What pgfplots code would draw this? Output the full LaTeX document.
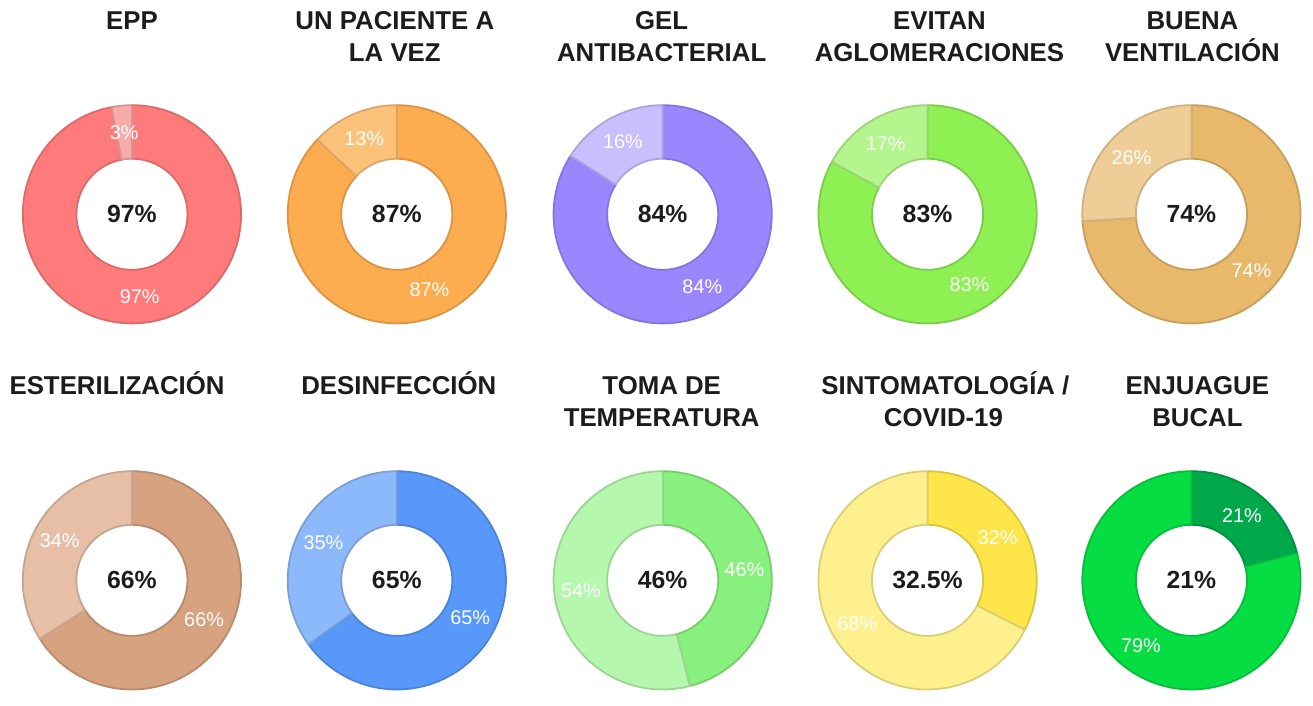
\documentclass[border=0pt]{standalone}
\usepackage{fontspec}
\setmainfont{Liberation Sans}
\usepackage{pgfplots}
\pgfplotsset{compat=1.18}

\definecolor{eppD}{HTML}{FF7B7B}\definecolor{eppL}{HTML}{F9ABAB}
\definecolor{pacD}{HTML}{FDAC4F}\definecolor{pacL}{HTML}{FDC27A}
\definecolor{gelD}{HTML}{9A87FF}\definecolor{gelL}{HTML}{C9BFFF}
\definecolor{eviD}{HTML}{8EF052}\definecolor{eviL}{HTML}{B4F58E}
\definecolor{venD}{HTML}{E8B86B}\definecolor{venL}{HTML}{EFCD96}
\definecolor{estD}{HTML}{D7A27F}\definecolor{estL}{HTML}{E6BFA6}
\definecolor{desD}{HTML}{5898FA}\definecolor{desL}{HTML}{8CB9FB}
\definecolor{temD}{HTML}{88F07C}\definecolor{temL}{HTML}{B6F7AE}
\definecolor{sinD}{HTML}{FEE54A}\definecolor{sinL}{HTML}{FEF08C}
\definecolor{enjD}{HTML}{00A84A}\definecolor{enjL}{HTML}{06DD42}
\definecolor{ink}{HTML}{1C1C1C}

\newcommand{\Ro}{55pt}
\newcommand{\Ri}{28pt}
% #1 cx, #2 cy, #3 value (%), #4 dark colour, #5 light colour, #6 centre text, #7 dark label, #8 light label
\newcommand{\donut}[8]{%
  \filldraw[fill=#4, draw=#4!86!black, line width=0.9pt]
    ([shift={(90:\Ro)}]axis cs:#1,#2) arc[start angle=90, end angle={90-3.6*#3}, radius=\Ro]
    -- ([shift={({90-3.6*#3}:\Ri)}]axis cs:#1,#2) arc[start angle={90-3.6*#3}, end angle=90, radius=\Ri] -- cycle;
  \filldraw[fill=#5, draw=#5!86!black, line width=0.9pt]
    ([shift={({90-3.6*#3}:\Ro)}]axis cs:#1,#2) arc[start angle={90-3.6*#3}, end angle=-270, radius=\Ro]
    -- ([shift={(-270:\Ri)}]axis cs:#1,#2) arc[start angle=-270, end angle={90-3.6*#3}, radius=\Ri] -- cycle;
  \node[text=white, font=\fontsize{10}{12}\selectfont] at ([shift={({90-1.8*#3}:41.5pt)}]axis cs:#1,#2) {#7};
  \node[text=white, font=\fontsize{10}{12}\selectfont] at ([shift={({-90-1.8*#3}:41.5pt)}]axis cs:#1,#2) {#8};
  \node[text=ink, font=\fontsize{12.5}{14}\selectfont\bfseries] at (axis cs:#1,#2) {#6};
}
\newcommand{\ttl}[3]{\node[anchor=base, text=ink, font=\fontsize{13}{16}\selectfont\bfseries, inner sep=0pt] at (axis cs:#1,#2) {#3};}

\begin{document}
\begin{tikzpicture}
\begin{axis}[x=0.5pt, y=0.5pt, xmin=0, xmax=1313, ymin=0, ymax=698, y dir=reverse,
  hide axis, clip=false, scale only axis]
\path (axis cs:0,0) rectangle (axis cs:1313,698);
% titles, row 1
\ttl{133}{30}{EPP}
\ttl{398}{30}{UN PACIENTE A}\ttl{398}{62}{LA VEZ}
\ttl{667}{30}{GEL}\ttl{667}{62}{ANTIBACTERIAL}
\ttl{947}{30}{EVITAN}\ttl{947}{62}{AGLOMERACIONES}
\ttl{1202}{30}{BUENA}\ttl{1202}{62}{VENTILACIÓN}
% titles, row 2
\ttl{118}{398}{ESTERILIZACIÓN}
\ttl{402}{398}{DESINFECCIÓN}
\ttl{667}{398}{TOMA DE}\ttl{667}{430}{TEMPERATURA}
\ttl{953}{398}{SINTOMATOLOGÍA /}\ttl{951}{430}{COVID-19}
\ttl{1207}{398}{ENJUAGUE}\ttl{1207}{430}{BUCAL}
% donuts, row 1
\donut{133}{216}{97}{eppD}{eppL}{97\%}{97\%}{3\%}
\donut{400}{216}{87}{pacD}{pacL}{87\%}{87\%}{13\%}
\donut{668}{216}{84}{gelD}{gelL}{84\%}{84\%}{16\%}
\donut{935}{216}{83}{eviD}{eviL}{83\%}{83\%}{17\%}
\donut{1201}{216}{74}{venD}{venL}{74\%}{74\%}{26\%}
% donuts, row 2
\donut{133}{585}{66}{estD}{estL}{66\%}{66\%}{34\%}
\donut{400}{585}{65}{desD}{desL}{65\%}{65\%}{35\%}
\donut{668}{585}{46}{temD}{temL}{46\%}{46\%}{54\%}
\donut{935}{585}{32.5}{sinD}{sinL}{32.5\%}{32\%}{68\%}
\donut{1201}{585}{21}{enjD}{enjL}{21\%}{21\%}{79\%}
\end{axis}
\end{tikzpicture}
\end{document}
